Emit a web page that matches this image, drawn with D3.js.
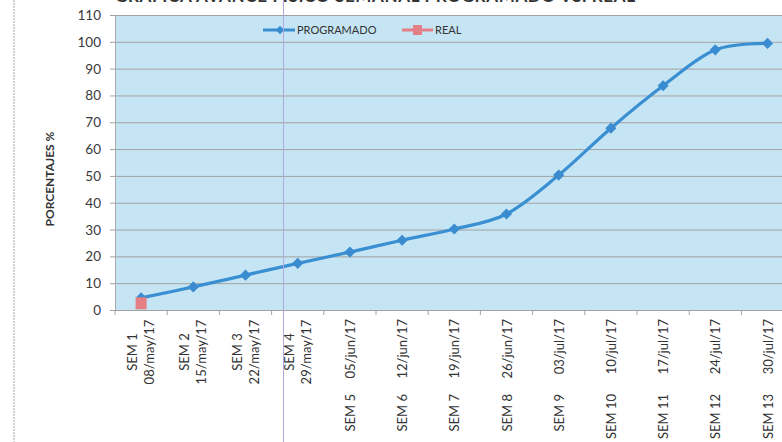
<!DOCTYPE html>
<html>
<head>
<meta charset="utf-8">
<script src="https://cdn.jsdelivr.net/npm/d3@7"></script>
<style>
  body { margin: 0; background: #fff; }
  svg { display: block; }
</style>
</head>
<body>
<svg id="chart"></svg>
<script>
// chart data
var semanas = ["SEM 1","SEM 2","SEM 3","SEM 4","SEM 5","SEM 6","SEM 7","SEM 8","SEM 9","SEM 10","SEM 11","SEM 12","SEM 13"];
var fechas = ["08/may/17","15/may/17","22/may/17","29/may/17","05/jun/17","12/jun/17","19/jun/17","26/jun/17","03/jul/17","10/jul/17","17/jul/17","24/jul/17","30/jul/17"];
var programado = [4.5, 8.6, 13, 17.4, 21.6, 26, 30.2, 35.8, 50.3, 67.8, 83.6, 97, 99.4];
var real = [2.5];
var yTicks = [0,10,20,30,40,50,60,70,80,90,100,110];

var w = 782, h = 442;
var plotLeft = 115, plotTop = 15, plotBottom = 310, step = 52.2;

var svg = d3.select('#chart')
    .attr('width', w)
    .attr('height', h)
    .attr('font-family', 'Lato, "Open Sans", sans-serif');

var x = d3.scaleBand()
    .domain(semanas)
    .range([plotLeft, plotLeft + step * semanas.length]);

var y = d3.scaleLinear()
    .domain([0, 110])
    .range([plotBottom, plotTop]);

function cx(i) { return x(semanas[i]) + x.bandwidth() / 2; }

// left border of the page (dotted)
svg.append('line')
    .attr('x1', 14).attr('x2', 14).attr('y1', 0).attr('y2', h)
    .attr('stroke', '#c4c4c4').attr('stroke-width', 1.5)
    .attr('stroke-dasharray', '2,1');

// title, clipped at the top like the scan
svg.append('text')
    .attr('x', plotLeft).attr('y', 2)
    .attr('font-size', 17).attr('font-weight', 'bold').attr('fill', '#333')
    .attr('textLength', 520)
    .text('GRAFICA AVANCE FISICO SEMANAL PROGRAMADO VS. REAL');

// plot area
svg.append('rect')
    .attr('x', plotLeft).attr('y', plotTop)
    .attr('width', w - plotLeft).attr('height', plotBottom - plotTop)
    .attr('fill', '#c6e5f4');

// gridlines
svg.append('g').selectAll('line')
    .data(yTicks)
    .enter().append('line')
    .attr('x1', plotLeft - 5).attr('x2', w)
    .attr('y1', function(d) { return y(d) + 0.5; })
    .attr('y2', function(d) { return y(d) + 0.5; })
    .attr('stroke', '#a2a2a2')
    .attr('stroke-width', 1);

// y axis line
svg.append('line')
    .attr('x1', plotLeft + 0.5).attr('x2', plotLeft + 0.5)
    .attr('y1', plotTop).attr('y2', plotBottom)
    .attr('stroke', '#a8a8a8');

// y labels
svg.append('g').selectAll('text')
    .data(yTicks)
    .enter().append('text')
    .attr('x', 101)
    .attr('y', function(d) { return y(d) + 5; })
    .attr('text-anchor', 'end')
    .attr('font-size', 13.5)
    .attr('fill', '#3a3a3a')
    .text(function(d) { return d; });

// y title
svg.append('text')
    .attr('transform', 'translate(54,179) rotate(-90)')
    .attr('text-anchor', 'middle')
    .attr('font-size', 12)
    .attr('font-weight', 'bold')
    .attr('fill', '#333')
    .text('PORCENTAJES %');

// x ticks
svg.append('g').selectAll('line')
    .data(d3.range(semanas.length + 1))
    .enter().append('line')
    .attr('x1', function(i) { return plotLeft + i * step; })
    .attr('x2', function(i) { return plotLeft + i * step; })
    .attr('y1', plotBottom).attr('y2', plotBottom + 5)
    .attr('stroke', '#a2a2a2');

// x labels
var lab = svg.append('g').selectAll('g')
    .data(semanas)
    .enter().append('g')
    .attr('transform', function(d, i) { return 'translate(' + cx(i) + ',0)'; })
    .attr('font-size', 13)
    .attr('fill', '#333');

lab.each(function(d, i) {
  var g = d3.select(this);
  if (i < 4) {
    // two lines, centred
    g.append('text')
      .attr('transform', 'translate(-4,352) rotate(-90)')
      .attr('text-anchor', 'middle')
      .text(d);
    g.append('text')
      .attr('transform', 'translate(13,352) rotate(-90)')
      .attr('text-anchor', 'middle')
      .text(fechas[i]);
  } else {
    g.append('text')
      .attr('transform', 'translate(5,319) rotate(-90)')
      .attr('text-anchor', 'end')
      .text(fechas[i]);
    g.append('text')
      .attr('transform', 'translate(5,394) rotate(-90)')
      .attr('text-anchor', 'end')
      .text(d);
  }
});

// programado line
var line = d3.line()
    .x(function(d, i) { return cx(i); })
    .y(function(d) { return y(d); })
    .curve(d3.curveCardinal.tension(0));

svg.append('path')
    .datum(programado)
    .attr('d', line)
    .attr('fill', 'none')
    .attr('stroke', '#3a8fd2')
    .attr('stroke-width', 3.2);

var diamond = d3.symbol().type(d3.symbolSquare).size(62);

svg.append('g').selectAll('path')
    .data(programado)
    .enter().append('path')
    .attr('d', diamond)
    .attr('transform', function(d, i) {
      return 'translate(' + cx(i) + ',' + y(d) + ') rotate(45)';
    })
    .attr('fill', '#3a8bd0');

// real
svg.append('g').selectAll('rect')
    .data(real)
    .enter().append('rect')
    .attr('x', function(d, i) { return cx(i) - 5.5; })
    .attr('y', function(d) { return y(d) - 6; })
    .attr('width', 11).attr('height', 12)
    .attr('fill', '#e57f86');

// legend
var leg = svg.append('g').attr('font-size', 11).attr('fill', '#333');
leg.append('line')
    .attr('x1', 263).attr('x2', 295).attr('y1', 30).attr('y2', 30)
    .attr('stroke', '#3a8fd2').attr('stroke-width', 3);
leg.append('path')
    .attr('d', diamond)
    .attr('transform', 'translate(280,30) rotate(45) scale(0.75)')
    .attr('fill', '#3a8bd0');
leg.append('text').attr('x', 297).attr('y', 34).text('PROGRAMADO');
leg.append('line')
    .attr('x1', 402).attr('x2', 433).attr('y1', 30).attr('y2', 30)
    .attr('stroke', '#e57f86').attr('stroke-width', 3);
leg.append('rect')
    .attr('x', 413).attr('y', 25).attr('width', 9).attr('height', 10)
    .attr('fill', '#e57f86');
leg.append('text').attr('x', 435).attr('y', 34).text('REAL');

// fold line of the scan
svg.append('line')
    .attr('x1', 283.5).attr('x2', 283.5).attr('y1', 0).attr('y2', h)
    .attr('stroke', '#b3a8dc').attr('stroke-width', 1);
</script>
</body>
</html>
